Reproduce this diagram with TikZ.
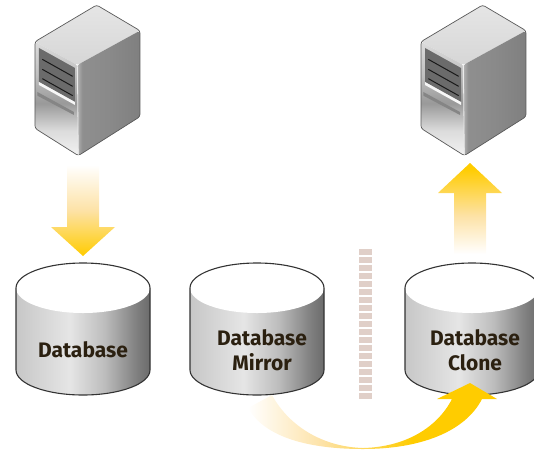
\documentclass[tikz,border=0pt]{standalone}
\usepackage{fontspec}
\setmainfont{Fira Sans}
\definecolor{txtc}{HTML}{2B2010}
\definecolor{arrc}{HTML}{FFCC00}
\definecolor{arrp}{HTML}{FDE2A6}
\definecolor{dotc}{HTML}{E0CFC8}
\pgfdeclarehorizontalshading{cylsh}{100bp}{color(0bp)=(white!74!black); color(25bp)=(white!78!black); color(45bp)=(white!90!black); color(58bp)=(white!74!black); color(70bp)=(white!50!black); color(75bp)=(white!42!black); color(100bp)=(white!42!black)}
\pgfdeclareverticalshading{downsh}{100bp}{color(0bp)=(arrc); color(25bp)=(arrc); color(50bp)=(arrp); color(75bp)=(white); color(100bp)=(white)}
\pgfdeclareverticalshading{upsh}{100bp}{color(0bp)=(white); color(25bp)=(white); color(46bp)=(arrp); color(72bp)=(arrc); color(100bp)=(arrc)}
\pgfdeclarehorizontalshading{curvesh}{100bp}{color(0bp)=(white); color(25bp)=(white); color(40bp)=(arrp); color(58bp)=(arrc); color(100bp)=(arrc)}
\pgfdeclareverticalshading{frontsh}{100bp}{color(0bp)=(white!95!black); color(25bp)=(white!95!black); color(36bp)=(white!86!black); color(48bp)=(white!60!black); color(60bp)=(white!75!black); color(75bp)=(white!86!black); color(100bp)=(white!86!black)}
\pgfdeclarehorizontalshading{sidesh}{100bp}{color(0bp)=(white!70!black); color(25bp)=(white!70!black); color(29bp)=(white!56!black); color(50bp)=(white!54!black); color(75bp)=(white!50!black); color(100bp)=(white!50!black)}
\pgfdeclareverticalshading{topsh}{100bp}{color(0bp)=(white!84!black); color(25bp)=(white!84!black); color(75bp)=(white!90!black); color(100bp)=(white!90!black)}
\tikzset{
  edgeline/.style={draw=black!80,line width=1.1pt,line join=round},
  dblabel/.style={text=txtc,font=\fontsize{21}{25}\selectfont\bfseries,align=center,inner sep=0pt},
  srvedge/.style={draw=black!65,line width=.7pt,rounded corners=2.5pt,line join=round}
}
\newcommand{\dbcyl}[1]{%
  \begin{scope}[shift={(#1,0)}]
    \path[shading=cylsh] (-67,288) -- (67,288) -- (67,370) arc[start angle=0,end angle=-180,x radius=67pt,y radius=25pt] -- cycle;
    \fill[white] (0,288) ellipse[x radius=67pt,y radius=25pt];
    \path[edgeline] (-67,288) arc[start angle=180,end angle=0,x radius=67pt,y radius=25pt] -- (67,370) arc[start angle=0,end angle=-180,x radius=67pt,y radius=25pt] -- cycle;
  \end{scope}}
\newcommand{\srv}[1]{%
  \begin{scope}[shift={(#1,0)},x=.3333pt,y=-.3333pt]
    \path[shading=topsh,rounded corners=2.5pt] (45,125) -- (230,15) -- (360,92) -- (172,195) -- cycle;
    \path[shading=sidesh,rounded corners=2.5pt] (172,195) -- (360,92) -- (360,350) -- (175,467) -- cycle;
    \path[shading=frontsh,rounded corners=2.5pt] (45,125) -- (172,195) -- (175,467) -- (45,385) -- cycle;
    \fill[white!42!black] (57,144) -- (165,204) -- (165,306) -- (57,246) -- cycle;
    \fill[white!97!black] (57,246) -- (165,306) -- (165,315) -- (57,255) -- cycle;
    \foreach \a in {178,208,236}
      \draw[black!90,line width=1pt] (67,\a) -- (158,\a+51);
    \fill[white!52!black] (52,276) -- (162,336) -- (162,345) -- (52,287) -- cycle;
    \path[srvedge] (45,125) -- (230,15) -- (360,92) -- (360,350) -- (175,467) -- (45,385) -- cycle;
    \draw[white!92!black,line width=.8pt] (172,195) -- (175,467);
  \end{scope}}
\begin{document}
\begin{tikzpicture}[x=1pt,y=-1pt]
\useasboundingbox (0,0) rectangle (534,453);
\clip (0,0) rectangle (534,453);
% servers
\srv{20}
\srv{406}
% cylinders
\dbcyl{83}
\dbcyl{257}
\dbcyl{472}
% arrows
\path[shading=downsh] (67,165) -- (99,165) -- (99,227) -- (115,227) -- (83,256) -- (51,227) -- (67,227) -- cycle;
\path[shading=upsh] (454,254) -- (486,254) -- (486,193) -- (502,193) -- (470,163) -- (438,193) -- (454,193) -- cycle;
\path[shading=curvesh] (272,395) .. controls (290,428) and (325,447) .. (363,448) .. controls (405,447) and (437,428) .. (452,399) -- (437,399) -- (470,383) -- (497,399) -- (482,399) .. controls (465,432) and (420,449) .. (363,449) .. controls (310,449) and (265,438) .. (248,408) -- cycle;
% separator
\foreach \i in {0,...,18}
  \fill[dotc] (359,249+8*\i) rectangle (372,255+8*\i);
% labels
\node[dblabel] (l1) at (83,350) {Database};
\node[dblabel] (l2) at (262,350) {Database\\Mirror};
\node[dblabel] (l3) at (475,350) {Database\\Clone};
\end{tikzpicture}
\end{document}
